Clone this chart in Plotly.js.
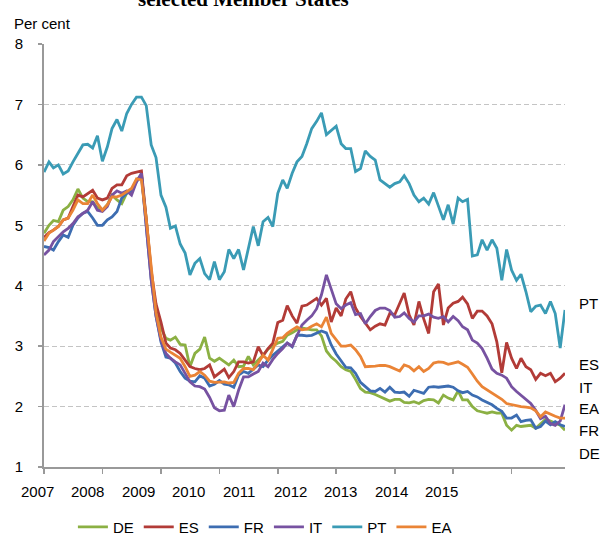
<!DOCTYPE html>
<html>
<head>
<meta charset="utf-8">
<script src="https://cdn.plot.ly/plotly-3.0.1.min.js"></script>
<style>
html,body{margin:0;padding:0;background:#fff;}
#chart{width:602px;height:536px;}
</style>
</head>
<body>
<div id="chart"></div>
<script>
// Monthly data, Jan 2007 - Dec 2015 (per cent)
const years = [2007, 2008, 2009, 2010, 2011, 2012, 2013, 2014, 2015];
const yearLabels = ["2007", "2008", "2009", "2010", "2011", "2012", "2013", "2014", "2015"];
const seriesNames = ["DE", "ES", "FR", "IT", "PT", "EA"];

const DE = [4.87,5.0,5.08,5.06,5.25,5.31,5.42,5.6,5.45,5.39,5.39,5.29,
  5.25,5.34,5.5,5.42,5.36,5.53,5.57,5.75,5.83,5.1,4.2,3.6,
  3.3,3.13,3.1,3.15,3.03,3.02,2.66,2.88,2.95,3.15,2.8,2.75,
  2.8,2.74,2.69,2.77,2.66,2.67,2.83,2.69,2.77,2.85,2.95,3.0,
  3.05,3.08,3.18,3.22,3.27,3.3,3.28,3.27,3.27,3.17,2.92,2.82,
  2.75,2.66,2.61,2.58,2.45,2.3,2.24,2.23,2.2,2.16,2.12,2.09,
  2.12,2.12,2.07,2.06,2.08,2.05,2.1,2.12,2.11,2.06,2.19,2.14,
  2.11,2.26,2.11,2.11,2.0,1.93,1.91,1.89,1.91,1.89,1.89,1.69,
  1.61,1.69,1.67,1.68,1.69,1.64,1.72,1.79,1.76,1.72,1.69,1.61];
const ES = [4.8,4.88,4.92,4.98,5.09,5.12,5.31,5.5,5.47,5.53,5.58,5.45,
  5.42,5.45,5.61,5.67,5.67,5.82,5.86,5.88,5.9,5.1,4.25,3.7,
  3.4,3.05,2.97,2.94,2.88,2.77,2.66,2.63,2.61,2.63,2.69,2.49,
  2.55,2.62,2.48,2.58,2.74,2.74,2.72,2.74,2.99,2.84,2.96,3.05,
  3.39,3.43,3.67,3.5,3.38,3.66,3.68,3.74,3.79,3.68,3.79,3.4,
  3.63,3.5,3.78,3.9,3.63,3.49,3.38,3.27,3.33,3.37,3.35,3.54,
  3.52,3.71,3.88,3.52,3.35,3.74,3.45,3.21,3.9,4.03,3.35,3.63,
  3.71,3.74,3.81,3.7,3.46,3.58,3.58,3.5,3.37,3.07,2.56,3.06,
  2.8,2.63,2.8,2.66,2.61,2.45,2.55,2.51,2.55,2.41,2.47,2.55];
const FR = [4.65,4.63,4.59,4.73,4.84,4.8,5.0,5.12,5.2,5.23,5.12,5.0,
  5.0,5.09,5.14,5.23,5.45,5.53,5.57,5.72,5.83,5.0,4.1,3.5,
  3.07,2.82,2.8,2.72,2.58,2.47,2.42,2.41,2.51,2.47,2.34,2.37,
  2.43,2.37,2.36,2.32,2.52,2.58,2.55,2.62,2.69,2.66,2.77,2.85,
  2.92,2.99,3.05,2.99,3.18,3.18,3.17,3.18,3.21,3.25,3.22,3.02,
  2.87,2.76,2.65,2.64,2.55,2.4,2.33,2.26,2.25,2.3,2.24,2.32,
  2.24,2.23,2.24,2.17,2.27,2.25,2.22,2.32,2.33,2.32,2.33,2.34,
  2.32,2.26,2.23,2.25,2.19,2.16,2.11,2.07,2.03,1.97,1.92,1.81,
  1.81,1.86,1.75,1.77,1.78,1.64,1.67,1.76,1.7,1.75,1.7,1.67];
const IT = [4.51,4.59,4.73,4.81,4.89,4.95,5.03,5.14,5.2,5.25,5.39,5.25,
  5.23,5.31,5.5,5.57,5.53,5.57,5.5,5.72,5.86,5.0,4.1,3.5,
  3.1,2.88,2.8,2.74,2.69,2.55,2.41,2.34,2.33,2.29,2.15,1.98,
  1.93,1.94,2.19,2.0,2.27,2.49,2.49,2.54,2.58,2.72,2.66,2.78,
  2.88,2.96,3.05,3.0,3.18,3.35,3.43,3.5,3.62,3.85,4.18,3.95,
  3.7,3.62,3.68,3.72,3.52,3.54,3.37,3.49,3.59,3.63,3.63,3.59,
  3.48,3.49,3.55,3.46,3.4,3.5,3.5,3.53,3.48,3.46,3.49,3.4,
  3.49,3.42,3.32,3.27,3.1,3.05,2.96,2.8,2.62,2.55,2.52,2.47,
  2.33,2.25,2.19,2.11,2.05,1.94,1.8,1.84,1.72,1.69,1.76,2.03];
const PT = [5.88,6.05,5.95,6.0,5.85,5.9,6.05,6.2,6.33,6.34,6.28,6.48,
  6.06,6.3,6.6,6.75,6.56,6.85,7.0,7.12,7.12,6.98,6.33,6.12,
  5.5,5.3,4.95,4.99,4.69,4.54,4.18,4.37,4.45,4.2,4.1,4.4,
  4.1,4.23,4.6,4.45,4.6,4.26,4.62,4.98,4.66,5.06,5.13,4.98,
  5.53,5.75,5.61,5.86,6.05,6.14,6.35,6.6,6.72,6.86,6.5,6.57,
  6.64,6.35,6.27,6.27,5.89,5.94,6.23,6.14,6.08,5.75,5.69,5.63,
  5.69,5.72,5.82,5.69,5.5,5.39,5.45,5.35,5.54,5.31,5.09,5.34,
  5.02,5.45,5.39,5.43,4.49,4.51,4.76,4.59,4.76,4.62,4.09,4.6,
  4.26,4.09,4.19,3.9,3.57,3.66,3.68,3.54,3.74,3.54,2.97,3.6];
const EA = [4.74,4.87,4.92,4.98,5.09,5.12,5.25,5.42,5.36,5.36,5.5,5.36,
  5.25,5.34,5.47,5.47,5.5,5.56,5.61,5.77,5.75,5.1,4.25,3.55,
  3.15,2.95,2.9,2.85,2.8,2.66,2.5,2.52,2.58,2.52,2.42,2.4,
  2.41,2.41,2.39,2.4,2.55,2.63,2.63,2.61,2.72,2.85,2.77,2.94,
  3.13,3.14,3.21,3.27,3.32,3.27,3.28,3.33,3.37,3.32,3.48,3.21,
  3.1,3.0,3.0,3.02,2.94,2.83,2.66,2.66,2.67,2.68,2.68,2.66,
  2.63,2.59,2.69,2.66,2.59,2.66,2.58,2.63,2.72,2.74,2.73,2.7,
  2.72,2.74,2.7,2.65,2.54,2.42,2.33,2.28,2.22,2.17,2.12,2.05,
  2.03,2.02,2.0,1.99,1.98,1.93,1.83,1.91,1.87,1.84,1.81,1.81];

// End-of-line label positions (value axis) for each country label
const endLabelNames = ["PT", "ES", "IT", "EA", "FR", "DE"];
const endLabelY = [3.71, 2.69, 2.31, 1.96, 1.61, 1.23];

const months = [];
years.forEach(y => { for (let m = 1; m <= 12; m++) months.push(y + "-" + String(m).padStart(2, "0") + "-01"); });

const seriesData = [DE, ES, FR, IT, PT, EA];
const colors = ["#8BB043", "#B23B37", "#3D6DB1", "#7752A1", "#3A9BB5", "#EA8436"];

const traces = seriesNames.map((name, i) => ({
  x: months,
  y: seriesData[i],
  name: name,
  type: "scatter",
  mode: "lines",
  line: {color: colors[i], width: 2.8},
  hoverinfo: "skip"
}));

const FONT = "Liberation Sans, Arial, sans-serif";
const plotW = 602 - 44 - 37;

const annotations = [];
// Year labels under the axis
yearLabels.forEach((t, i) => {
  annotations.push({
    text: t, xref: "paper", yref: "paper",
    x: (37 + i * 50.6 - 44) / plotW, y: 0, yshift: -24,
    xanchor: "center", yanchor: "middle", showarrow: false,
    font: {family: FONT, size: 15, color: "#000"}
  });
});
// End labels
endLabelNames.forEach((t, i) => {
  annotations.push({
    text: t, xref: "paper", yref: "y",
    x: 1 + 12 / plotW, y: endLabelY[i],
    xanchor: "left", yanchor: "middle", showarrow: false,
    font: {family: FONT, size: 15, color: "#000"}
  });
});
// Unit label
annotations.push({
  text: "Per cent", xref: "paper", yref: "paper",
  x: (12 - 44) / plotW, y: 1, yshift: 21,
  xanchor: "left", yanchor: "middle", showarrow: false,
  font: {family: FONT, size: 15, color: "#000"}
});
// Title (partially cut off at top, as in the source)
annotations.push({
  text: "<b>selected Member States</b>", xref: "paper", yref: "paper",
  x: (243 - 44) / plotW, y: 1, yshift: 45,
  xanchor: "center", yanchor: "middle", showarrow: false,
  font: {family: "Liberation Serif, Times New Roman, serif", size: 21, color: "#000"}
});

const layout = {
  width: 602, height: 536,
  margin: {l: 44, r: 37, t: 44, b: 69, autoexpand: false},
  paper_bgcolor: "#fff", plot_bgcolor: "#fff",
  showlegend: true,
  legend: {
    orientation: "h", x: 0.424, xanchor: "center", y: -0.142, yanchor: "middle",
    font: {family: FONT, size: 15, color: "#000"}, traceorder: "normal"
  },
  xaxis: {
    type: "date", range: ["2007-01-01", "2015-12-01"],
    tick0: "2007-01-01", dtick: "M12",
    showticklabels: false, ticks: "outside", ticklen: 5, tickcolor: "#999", tickwidth: 1.5,
    showgrid: false, zeroline: false,
    showline: true, linecolor: "#999", linewidth: 2
  },
  yaxis: {
    range: [1, 8], dtick: 1, tick0: 1,
    ticks: "outside", ticklen: 4, tickcolor: "#999", tickwidth: 1.5,
    ticklabelstandoff: 12,
    showgrid: true, gridcolor: "#c4c4c4", gridwidth: 1, griddash: "5px,3px",
    zeroline: false, showline: true, linecolor: "#999", linewidth: 2,
    tickfont: {family: FONT, size: 15, color: "#000"}
  },
  annotations: annotations
};

Plotly.newPlot("chart", traces, layout, {displayModeBar: false, staticPlot: true});
</script>
</body>
</html>
